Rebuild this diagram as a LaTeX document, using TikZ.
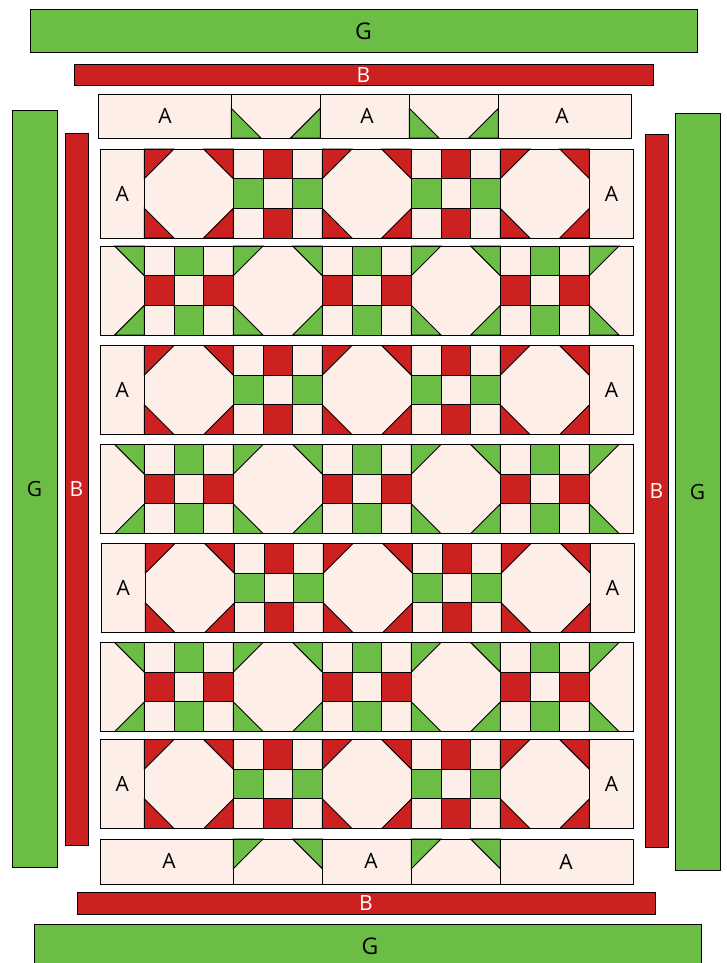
\documentclass[tikz,border=0pt]{standalone}
\usepackage{fontspec}
\setmainfont{Open Sans}
\definecolor{qgreen}{RGB}{108,189,69}
\definecolor{qred}{RGB}{205,32,32}
\definecolor{qlight}{RGB}{253,238,232}
\tikzset{
  patch/.style={draw=black, line width=0.9pt},
  lbl/.style={font=\fontsize{21}{21}\selectfont, inner sep=0pt, text=black},
  glbl/.style={font=\fontsize{23}{23}\selectfont, inner sep=0pt, text=black},
  band/.style={draw=black, line width=1pt, inner sep=0pt},
}
\def\bs{89}\def\hs{44.3}\def\ts{29.67}
% octagon (snowball) block
\newcommand\octa[3]{%
  \begin{scope}[shift={(#1,#2)}]
    \fill[qlight] (0,0) rectangle (\bs,\bs);
    \filldraw[fill=#3,patch] (0,0) -- (\ts,0) -- (0,\ts) -- cycle;
    \filldraw[fill=#3,patch] (\bs,0) -- (\bs-\ts,0) -- (\bs,\ts) -- cycle;
    \filldraw[fill=#3,patch] (0,\bs) -- (\ts,\bs) -- (0,\bs-\ts) -- cycle;
    \filldraw[fill=#3,patch] (\bs,\bs) -- (\bs-\ts,\bs) -- (\bs,\bs-\ts) -- cycle;
    \draw[patch] (0,0) rectangle (\bs,\bs);
  \end{scope}}
% nine-patch block: #3 top/bottom colour, #4 left/right colour
\newcommand\nine[4]{%
  \begin{scope}[shift={(#1,#2)}]
    \foreach \i in {0,1,2}{\foreach \j in {0,1,2}{
      \filldraw[fill=qlight,patch] (\i*\ts,\j*\ts) rectangle ++(\ts,\ts);}}
    \filldraw[fill=#3,patch] (\ts,0) rectangle ++(\ts,\ts);
    \filldraw[fill=#3,patch] (\ts,2*\ts) rectangle ++(\ts,\ts);
    \filldraw[fill=#4,patch] (0,\ts) rectangle ++(\ts,\ts);
    \filldraw[fill=#4,patch] (2*\ts,\ts) rectangle ++(\ts,\ts);
  \end{scope}}
\newcommand\oddrow[3]{%
  \begin{scope}[shift={(#1,#2)}]
    \filldraw[fill=qlight,patch] (0,0) rectangle (\hs,\bs);
    \node[lbl] (#3-l) at (\hs/2,\bs/2) {A};
    \octa{\hs}{0}{qred}
    \nine{\hs+\bs}{0}{qred}{qgreen}
    \octa{\hs+2*\bs}{0}{qred}
    \nine{\hs+3*\bs}{0}{qred}{qgreen}
    \octa{\hs+4*\bs}{0}{qred}
    \filldraw[fill=qlight,patch] (\hs+5*\bs,0) rectangle ++(\hs,\bs);
    \node[lbl] (#3-r) at (1.5*\hs+5*\bs,\bs/2) {A};
  \end{scope}}
\newcommand\evenrow[2]{%
  \begin{scope}[shift={(#1,#2)}]
    \fill[qlight] (0,0) rectangle (\hs,\bs);
    \filldraw[fill=qgreen,patch] (\hs,0) -- (\hs-\ts,0) -- (\hs,\ts) -- cycle;
    \filldraw[fill=qgreen,patch] (\hs,\bs) -- (\hs-\ts,\bs) -- (\hs,\bs-\ts) -- cycle;
    \draw[patch] (0,0) rectangle (\hs,\bs);
    \nine{\hs}{0}{qgreen}{qred}
    \octa{\hs+\bs}{0}{qgreen}
    \nine{\hs+2*\bs}{0}{qgreen}{qred}
    \octa{\hs+3*\bs}{0}{qgreen}
    \nine{\hs+4*\bs}{0}{qgreen}{qred}
    \begin{scope}[shift={(\hs+5*\bs,0)}]
      \fill[qlight] (0,0) rectangle (\hs,\bs);
      \filldraw[fill=qgreen,patch] (0,0) -- (\ts,0) -- (0,\ts) -- cycle;
      \filldraw[fill=qgreen,patch] (0,\bs) -- (\ts,\bs) -- (0,\bs-\ts) -- cycle;
      \draw[patch] (0,0) rectangle (\hs,\bs);
    \end{scope}
  \end{scope}}
% border strip unit with triangles at bottom (#4=b) or top (#4=t)
\newcommand\triunit[4]{%
  \begin{scope}[shift={(#1,#2)}]
    \fill[qlight] (0,0) rectangle (\bs,#3);
    \ifx#4b
      \filldraw[fill=qgreen,patch] (0,#3) -- (\ts,#3) -- (0,#3-\ts) -- cycle;
      \filldraw[fill=qgreen,patch] (\bs,#3) -- (\bs-\ts,#3) -- (\bs,#3-\ts) -- cycle;
    \else
      \filldraw[fill=qgreen,patch] (0,0) -- (\ts,0) -- (0,\ts) -- cycle;
      \filldraw[fill=qgreen,patch] (\bs,0) -- (\bs-\ts,0) -- (\bs,\ts) -- cycle;
    \fi
    \draw[patch] (0,0) rectangle (\bs,#3);
  \end{scope}}
\begin{document}
\begin{tikzpicture}[x=1pt,y=-1pt]
  \useasboundingbox (0,0) rectangle (726,963);
  \clip (0,0) rectangle (726,963);
  \fill[white] (0,0) rectangle (726,963);
  % outer borders
  \node[band, fill=qgreen, minimum width=667pt, minimum height=43pt, glbl] (Gtop) at (363.5,31.5) {G};
  \node[band, fill=qred, minimum width=579pt, minimum height=21pt, lbl, text=white] (Btop) at (363.5,75.5) {B};
  \node[band, fill=qgreen, minimum width=45pt, minimum height=756pt, lbl] (Gleft) at (34.5,489) {G};
  \node[band, fill=qred, minimum width=23pt, minimum height=712pt, lbl, text=white] (Bleft) at (76.5,489) {B};
  \node[band, fill=qred, minimum width=23pt, minimum height=713pt, lbl, text=white] (Bright) at (656.5,490.5) {B};
  \node[band, fill=qgreen, minimum width=45pt, minimum height=756pt, lbl] (Gright) at (697.5,492) {G};
  \node[band, fill=qred, minimum width=578pt, minimum height=22pt, lbl, text=white] (Bbot) at (366,903) {B};
  \filldraw[fill=qgreen, draw=black, line width=1pt] (34,924) rectangle (701,1000);
  \node[glbl] (Gbot) at (370,946) {G};
  % top A strip
  \begin{scope}[shift={(98,94)}]
    \filldraw[fill=qlight,patch] (0,0) rectangle (\hs+\bs,44);
    \triunit{\hs+\bs}{0}{44}{b}
    \filldraw[fill=qlight,patch] (\hs+2*\bs,0) rectangle ++(\bs,44);
    \triunit{\hs+3*\bs}{0}{44}{b}
    \filldraw[fill=qlight,patch] (\hs+4*\bs,0) rectangle ++(\hs+\bs,44);
  \end{scope}
  \node[lbl] (At1) at (165,116) {A};
  \node[lbl] (At2) at (367,116) {A};
  \node[lbl] (At3) at (562,116) {A};
  % rows
  \oddrow{100}{149}{r1}
  \evenrow{100}{246}
  \oddrow{100}{345.5}{r3}
  \evenrow{100}{444.5}
  \oddrow{101}{543.5}{r5}
  \evenrow{100}{642.5}
  \oddrow{100}{739.5}{r7}
  % bottom A strip
  \begin{scope}[shift={(100,839)}]
    \filldraw[fill=qlight,patch] (0,0) rectangle (\hs+\bs,45);
    \triunit{\hs+\bs}{0}{45}{t}
    \filldraw[fill=qlight,patch] (\hs+2*\bs,0) rectangle ++(\bs,45);
    \triunit{\hs+3*\bs}{0}{45}{t}
    \filldraw[fill=qlight,patch] (\hs+4*\bs,0) rectangle ++(\hs+\bs,45);
  \end{scope}
  \node[lbl] (Ab1) at (169,861) {A};
  \node[lbl] (Ab2) at (371,861) {A};
  \node[lbl] (Ab3) at (566,862) {A};
\end{tikzpicture}
\end{document}
